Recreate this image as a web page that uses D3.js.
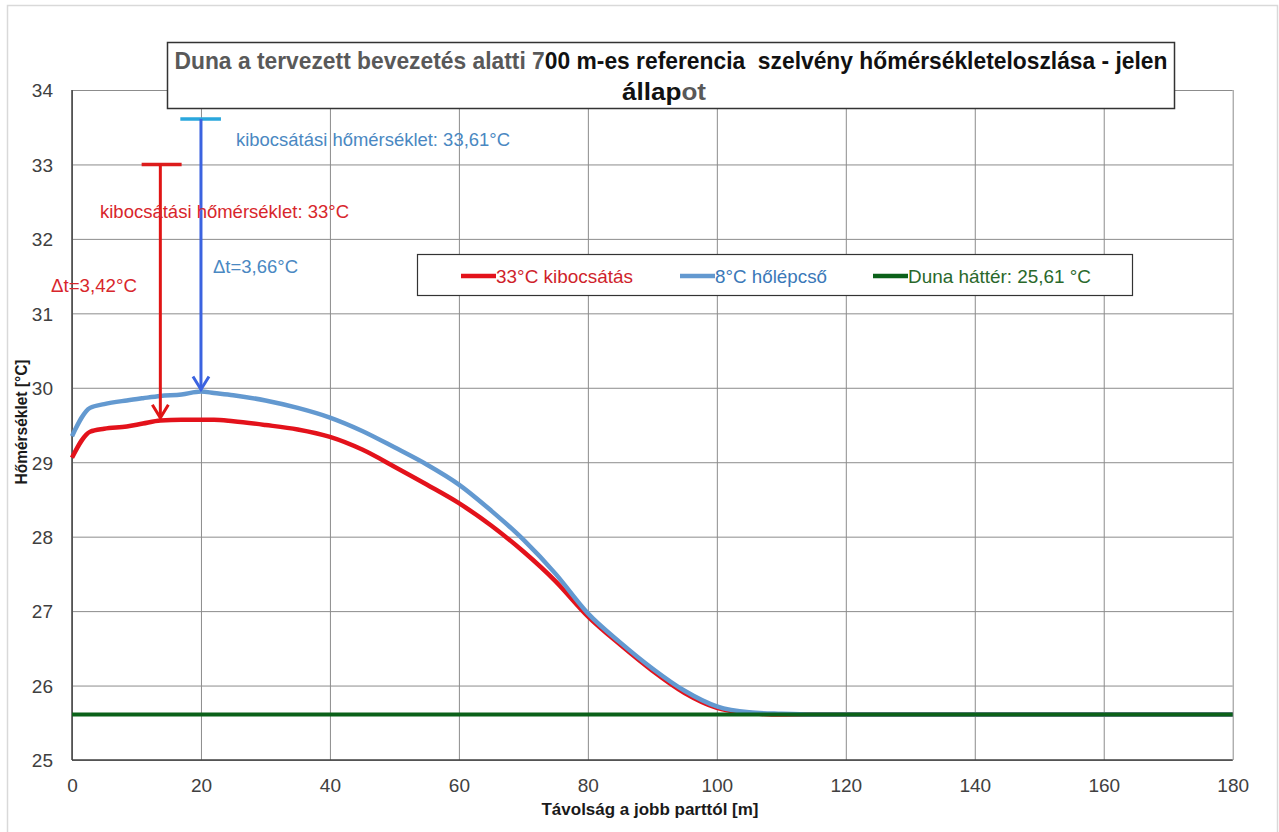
<!DOCTYPE html>
<html><head><meta charset="utf-8">
<script src="https://cdn.jsdelivr.net/npm/d3@7"></script>
<style>
html,body{margin:0;padding:0;background:#fff;}
svg{display:block;}
text{white-space:pre;}
</style></head>
<body>
<svg id="c" width="1279" height="832"></svg>
<script>
// ---------- data ----------
const distance = [0, 2.8, 5, 8.5, 11, 13.7, 17, 20, 22, 25, 30, 35, 40, 45, 50, 55, 60, 65, 70, 75, 80, 85, 90, 95, 100, 105, 110, 115, 120, 140, 160, 180];
const kibocsatas33 = [29.06, 29.41, 29.45, 29.48, 29.52, 29.56, 29.57, 29.57, 29.57, 29.55, 29.50, 29.44, 29.34, 29.17, 28.94, 28.70, 28.45, 28.15, 27.80, 27.40, 26.93, 26.55, 26.20, 25.90, 25.70, 25.63, 25.61, 25.61, 25.61, 25.61, 25.61, 25.61];
const holepcso8 = [29.35, 29.73, 29.78, 29.83, 29.86, 29.89, 29.91, 29.95, 29.93, 29.90, 29.83, 29.73, 29.60, 29.42, 29.20, 28.97, 28.70, 28.35, 27.96, 27.50, 26.97, 26.58, 26.23, 25.93, 25.72, 25.64, 25.62, 25.61, 25.61, 25.61, 25.61, 25.61];
const dunaHatter = [25.61, 25.61];
const dunaHatterX = [0, 180];
const xTicks = [0, 20, 40, 60, 80, 100, 120, 140, 160, 180];
const yTicks = [25, 26, 27, 28, 29, 30, 31, 32, 33, 34];
const seriesNames = ["33°C kibocsátás", "8°C hőlépcső", "Duna háttér: 25,61 °C"];
// annotations: discharge temperatures and arrow targets
const dischargeTemp = [33, 33.61];
const arrowX = [13.7, 20];
const arrowTarget = [29.57, 29.95];
const barX0 = [10.8, 16.8];
const barX1 = [17.0, 23.1];
const dischargeLabels = ["kibocsátási hőmérséklet: 33°C", "kibocsátási hőmérséklet: 33,61°C"];
const deltaLabels = ["\u0394t=3,42°C", "\u0394t=3,66°C"];

// ---------- layout ----------
const svg = d3.select("#c");
const L = 72, R = 1232.7, T = 90, B = 760;
const x = d3.scaleLinear().domain([0, 180]).range([L, R]);
const y = d3.scaleLinear().domain([25, 34]).range([B, T]);
const FONT = "'Liberation Sans Narrow','Arial Narrow','Liberation Sans',Arial,sans-serif";
const FONTW = "'Liberation Sans',Arial,sans-serif";

// outer frame
svg.append("rect").attr("x", 7.5).attr("y", 5.5).attr("width", 1270).attr("height", 840)
  .attr("fill", "#fff").attr("stroke", "#d9d9d9").attr("stroke-width", 1.5);

// grid
const g = svg.append("g");
g.append("g").attr("transform", `translate(0,${B})`)
  .call(d3.axisBottom(x).tickValues(xTicks).tickSize(-(B - T)).tickFormat(""))
  .call(s => s.select(".domain").remove())
  .selectAll("line").attr("stroke", "#8c8c8c").attr("stroke-width", 1);
g.append("g").attr("transform", `translate(${L},0)`)
  .call(d3.axisLeft(y).tickValues(yTicks).tickSize(-(R - L)).tickFormat(""))
  .call(s => s.select(".domain").remove())
  .selectAll("line").attr("stroke", "#8c8c8c").attr("stroke-width", 1);

// axis lines
svg.append("line").attr("x1", L).attr("x2", L).attr("y1", T).attr("y2", B).attr("stroke", "#404040").attr("stroke-width", 1.5);
svg.append("line").attr("x1", L).attr("x2", R).attr("y1", B).attr("y2", B).attr("stroke", "#404040").attr("stroke-width", 1.5);

// tick labels
const xa = svg.append("g").attr("transform", `translate(0,${B})`)
  .call(d3.axisBottom(x).tickValues(xTicks).tickSize(0).tickPadding(0).tickFormat(d3.format("d")));
xa.select(".domain").remove();
xa.selectAll("text").attr("y", 32).attr("dy", null).attr("font-family", FONT).attr("font-size", 19).attr("fill", "#404040");
const ya = svg.append("g").attr("transform", `translate(${L},0)`)
  .call(d3.axisLeft(y).tickValues(yTicks).tickSize(0).tickPadding(0).tickFormat(d3.format("d")));
ya.select(".domain").remove();
ya.selectAll("text").attr("x", -19).attr("dy", "0.36em").attr("font-family", FONT).attr("font-size", 19).attr("fill", "#404040");

// axis titles
svg.append("text").attr("x", 650).attr("y", 815).attr("text-anchor", "middle")
  .attr("font-family", FONTW).attr("font-weight", "bold").attr("font-size", 17).attr("fill", "#1a1a1a")
  .attr("textLength", 217).attr("lengthAdjust", "spacingAndGlyphs")
  .text("Távolság a jobb parttól [m]");
svg.append("text").attr("transform", "translate(27,422) rotate(-90)").attr("text-anchor", "middle")
  .attr("font-family", FONTW).attr("font-weight", "bold").attr("font-size", 16).attr("fill", "#1a1a1a")
  .attr("textLength", 125).attr("lengthAdjust", "spacingAndGlyphs")
  .text("Hőmérséklet [°C]");

// series
const line = d3.line().x(d => x(d[0])).y(d => y(d[1])).curve(d3.curveMonotoneX);
svg.append("path").datum(d3.zip(distance, kibocsatas33)).attr("d", line)
  .attr("fill", "none").attr("stroke", "#e3121b").attr("stroke-width", 4.5).attr("stroke-linejoin", "round");
svg.append("path").datum(d3.zip(distance, holepcso8)).attr("d", line)
  .attr("fill", "none").attr("stroke", "#6399d0").attr("stroke-width", 4.5).attr("stroke-linejoin", "round");
svg.append("path").datum(d3.zip(dunaHatterX, dunaHatter)).attr("d", line)
  .attr("fill", "none").attr("stroke", "#0b6119").attr("stroke-width", 4);

// annotations
const barColors = ["#dc1c1c", "#2aa7dd"];
const arrowColors = ["#e01515", "#3b63e0"];
const textColors = ["#d8262c", "#4a88c2"];
for (let i = 0; i < 2; i++) {
  svg.append("line").attr("x1", x(barX0[i])).attr("x2", x(barX1[i]))
    .attr("y1", y(dischargeTemp[i])).attr("y2", y(dischargeTemp[i]))
    .attr("stroke", barColors[i]).attr("stroke-width", 3.5);
  const ax = x(arrowX[i]), ty = y(arrowTarget[i]);
  svg.append("line").attr("x1", ax).attr("x2", ax).attr("y1", y(dischargeTemp[i])).attr("y2", ty - 2)
    .attr("stroke", arrowColors[i]).attr("stroke-width", 3);
  svg.append("polyline").attr("points", `${ax - 8},${ty - 15} ${ax},${ty - 2} ${ax + 8},${ty - 15}`)
    .attr("fill", "none").attr("stroke", arrowColors[i]).attr("stroke-width", 3).attr("stroke-linejoin", "miter");
}
// annotation texts
svg.append("text").attr("x", 100).attr("y", 218).attr("font-family", FONT).attr("font-size", 19)
  .attr("fill", textColors[0]).attr("textLength", 249).attr("lengthAdjust", "spacingAndGlyphs").text(dischargeLabels[0]);
svg.append("text").attr("x", 236).attr("y", 146).attr("font-family", FONT).attr("font-size", 19)
  .attr("fill", textColors[1]).attr("textLength", 274).attr("lengthAdjust", "spacingAndGlyphs").text(dischargeLabels[1]);
svg.append("text").attr("x", 51).attr("y", 292).attr("font-family", FONT).attr("font-size", 19)
  .attr("fill", textColors[0]).attr("textLength", 86).attr("lengthAdjust", "spacingAndGlyphs").text(deltaLabels[0]);
svg.append("text").attr("x", 213).attr("y", 273).attr("font-family", FONT).attr("font-size", 19)
  .attr("fill", textColors[1]).attr("textLength", 85).attr("lengthAdjust", "spacingAndGlyphs").text(deltaLabels[1]);

// legend
svg.append("rect").attr("x", 417.5).attr("y", 254.5).attr("width", 715).attr("height", 41)
  .attr("fill", "#fff").attr("stroke", "#333").attr("stroke-width", 1.2);
const legColors = ["#e3121b", "#6399d0", "#0b6119"];
const legText = ["#cf1f2c", "#3a78b8", "#2a682b"];
const legLineX = [461, 680, 873];
const legTextLen = [137, 112, 183];
for (let i = 0; i < 3; i++) {
  svg.append("line").attr("x1", legLineX[i]).attr("x2", legLineX[i] + 35).attr("y1", 276).attr("y2", 276)
    .attr("stroke", legColors[i]).attr("stroke-width", 4.5);
  svg.append("text").attr("x", legLineX[i] + 35).attr("y", 283).attr("font-family", FONT).attr("font-size", 19)
    .attr("fill", legText[i]).attr("textLength", legTextLen[i]).attr("lengthAdjust", "spacingAndGlyphs").text(seriesNames[i]);
}

// title box
svg.append("rect").attr("x", 167.5).attr("y", 42.5).attr("width", 1007).attr("height", 66)
  .attr("fill", "#fff").attr("stroke", "#333").attr("stroke-width", 1.5);
const t1 = svg.append("text").attr("x", 671).attr("y", 69).attr("text-anchor", "middle")
  .attr("font-family", FONT).attr("font-weight", "bold").attr("font-size", 24)
  .attr("textLength", 993).attr("lengthAdjust", "spacingAndGlyphs");
t1.append("tspan").attr("fill", "#595959").text("Duna a tervezett bevezetés alatti 7");
t1.append("tspan").attr("fill", "#111").text("00 m-es referencia  szelvény hőmérsékleteloszlása - jelen");
const t2 = svg.append("text").attr("x", 664).attr("y", 100).attr("text-anchor", "middle")
  .attr("font-family", FONT).attr("font-weight", "bold").attr("font-size", 24)
  .attr("textLength", 84).attr("lengthAdjust", "spacingAndGlyphs");
t2.append("tspan").attr("fill", "#111").text("állap");
t2.append("tspan").attr("fill", "#595959").text("ot");
</script>
</body></html>
